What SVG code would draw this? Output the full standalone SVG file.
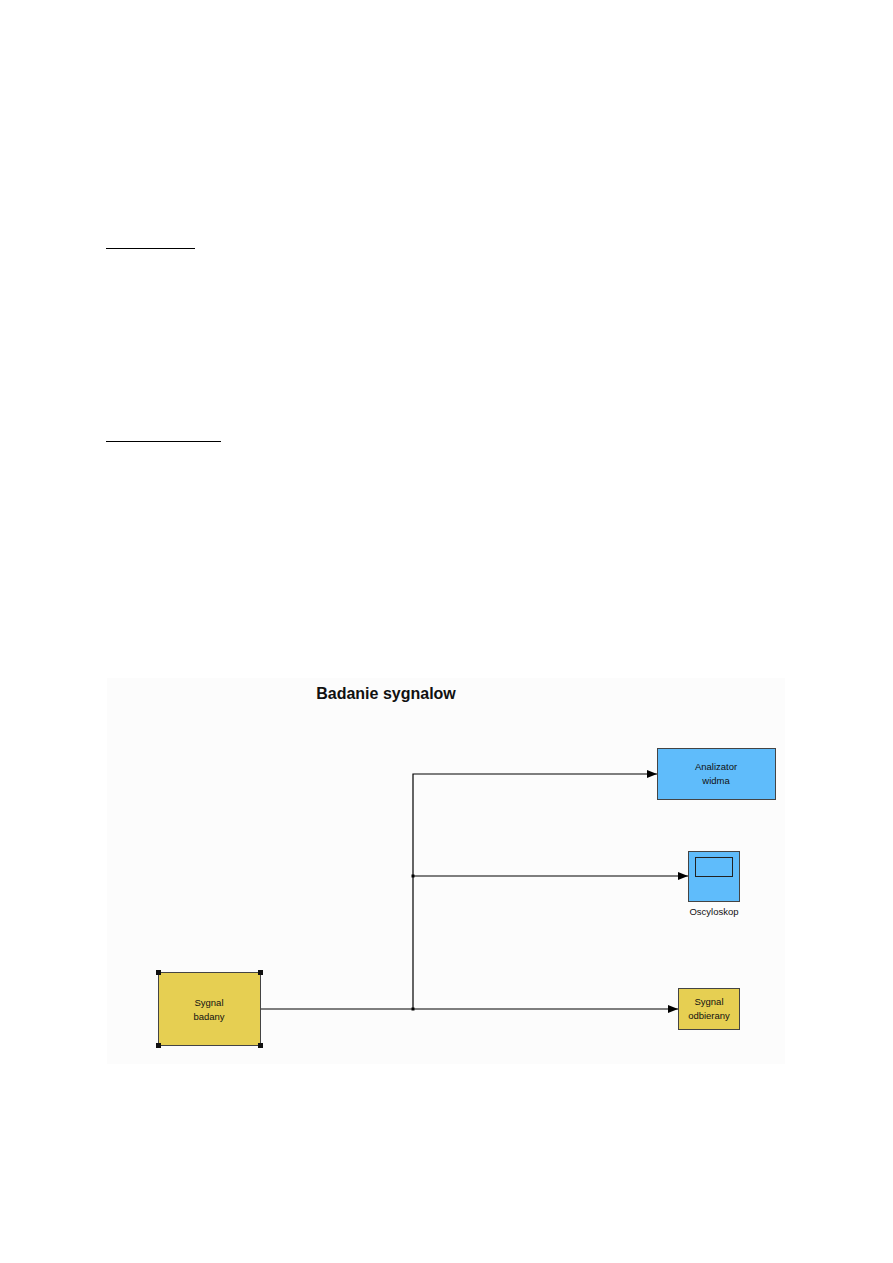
<svg xmlns="http://www.w3.org/2000/svg" width="893" height="1263" viewBox="0 0 893 1263">
<style>
.lbl{font-family:"Liberation Sans",Arial,sans-serif;font-size:9.5px;fill:#111;text-anchor:middle}
.wire{fill:none;stroke:#000;stroke-width:1.2}
.blue{fill:#5fbcfb;stroke:#444;stroke-width:1}
.yel{fill:#e6cf52;stroke:#444;stroke-width:1}
.h{fill:#111}
</style>
<defs>
<marker id="arr" markerWidth="10" markerHeight="10" refX="10" refY="5" orient="auto" markerUnits="userSpaceOnUse">
<path d="M0,1 L10,5 L0,9 Z" fill="#000"/>
</marker>
</defs>
<rect width="893" height="1263" fill="#fff"/>
<line x1="106" y1="248.5" x2="195" y2="248.5" stroke="#000" stroke-width="1.2"/>
<line x1="106" y1="441.5" x2="221" y2="441.5" stroke="#000" stroke-width="1.2"/>
<rect x="107" y="678" width="678" height="386" fill="#fcfcfc"/>
<text x="386" y="699" font-family="Liberation Sans,Arial,sans-serif" font-size="16" font-weight="bold" text-anchor="middle" fill="#111">Badanie sygnalow</text>
<g id="connectors">
<polyline class="wire" points="261,1009 678,1009" marker-end="url(#arr)"/>
<polyline class="wire" points="413,1009 413,774 657,774" marker-end="url(#arr)"/>
<polyline class="wire" points="413,876 688,876" marker-end="url(#arr)"/>
<rect x="411.5" y="874.5" width="3" height="3" fill="#000"/>
<rect x="411.5" y="1007.5" width="3" height="3" fill="#000"/>
</g>
<g id="analizator">
<rect class="blue" x="657.5" y="748.5" width="118" height="51"/>
<text class="lbl" x="716" y="770">Analizator</text>
<text class="lbl" x="716" y="784">widma</text>
</g>
<g id="oscyloskop">
<rect class="blue" x="688.5" y="851.5" width="51" height="50"/>
<rect x="695.5" y="857.5" width="37" height="19" fill="none" stroke="#222" stroke-width="1"/>
<text class="lbl" x="714" y="915">Oscyloskop</text>
</g>
<g id="odbierany">
<rect class="yel" x="678.5" y="988.5" width="61" height="41"/>
<text class="lbl" x="709" y="1005">Sygnal</text>
<text class="lbl" x="709" y="1019">odbierany</text>
</g>
<g id="badany">
<rect class="yel" x="158.5" y="972.5" width="102" height="73"/>
<text class="lbl" x="209" y="1006">Sygnal</text>
<text class="lbl" x="209" y="1020">badany</text>
<rect class="h" x="156" y="970" width="5" height="5"/>
<rect class="h" x="258" y="970" width="5" height="5"/>
<rect class="h" x="156" y="1043" width="5" height="5"/>
<rect class="h" x="258" y="1043" width="5" height="5"/>
</g>
</svg>
